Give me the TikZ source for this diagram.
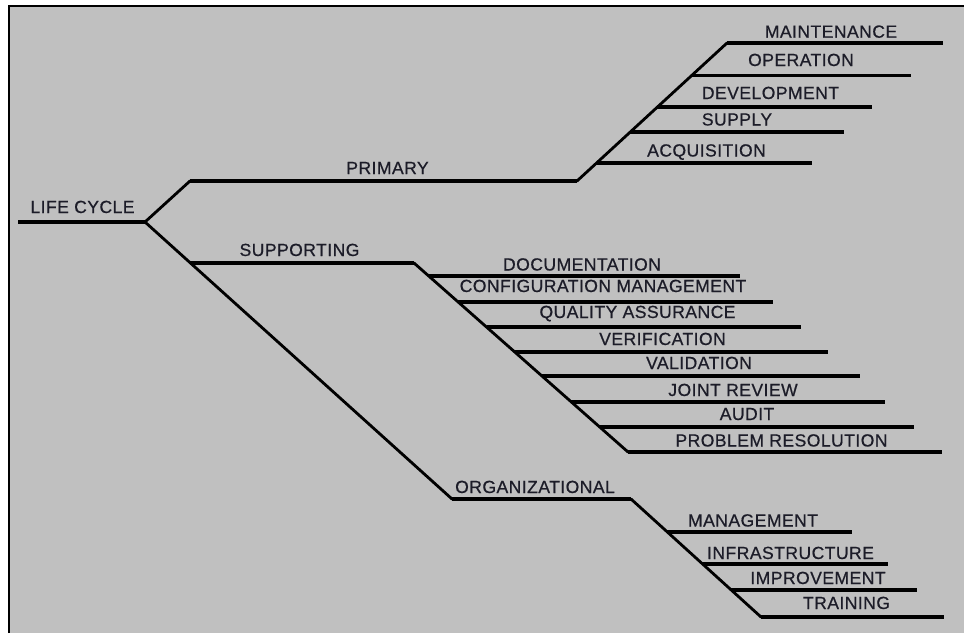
\documentclass[tikz,border=0pt]{standalone}
\usepackage{fontspec}
\setmainfont{Liberation Sans}[LetterSpace=2.5, FakeBold=0.6]
\usepackage{tikz}
\usetikzlibrary{positioning}
\definecolor{panel}{RGB}{192,192,192}
\definecolor{ink}{RGB}{28,28,40}
\tikzset{
  stem/.style={line width=2.3pt},
  twig/.style={line width=1.9pt},
  spine/.style={line width=1.6pt, line cap=round},
  tag/.style={anchor=base, inner sep=0pt, text=ink, font=\fontsize{10}{12}\selectfont}
}
\begin{document}
\begin{tikzpicture}[x=0.2mm, y=-0.2mm]
    \useasboundingbox (0,0) rectangle (964,633);
    \fill[panel] (9,6) rectangle (964,633);
    \draw[line width=1.1pt] (9,633) -- (9,6) -- (964,6);

    % root and the three groups
    \coordinate (lc0) at (18,222);
    \coordinate (lc1) at (145,222);
    \coordinate (p0) at (190,181);
    \coordinate (p1) at (577,181);
    \coordinate (s0) at (190,263);
    \coordinate (s1) at (414,263);
    \coordinate (o0) at (452,499);
    \coordinate (o1) at (631,499);

    \draw[stem] (lc0) -- (lc1);
    \draw[spine] (lc1) -- (p0);
    \draw[spine] (lc1) -- (o0);
    \draw[stem] (p0) -- (p1);
    \draw[stem] (s0) -- (s1);
    \draw[stem] (o0) -- (o1);

    \node(lc) [tag] at (82.5,213) {LIFE CYCLE};
    \node(prim) [tag] at (387.5,174) {PRIMARY};
    \node(supp) [tag] at (299.5,256) {SUPPORTING};
    \node(org) [tag] at (535,493) {ORGANIZATIONAL};

    % primary processes
    \coordinate (acq0) at (596.6,163);  \coordinate (acq1) at (812,163);
    \coordinate (sup0) at (630.3,132);  \coordinate (sup1) at (844,132);
    \coordinate (dev0) at (657.4,107);  \coordinate (dev1) at (872,107);
    \coordinate (ope0) at (691.7,75.5); \coordinate (ope1) at (911,75.5);
    \coordinate (mai0) at (727,43);     \coordinate (mai1) at (943,43);

    \draw[spine] (p1) -- (mai0);
    \foreach \b in {acq, sup, dev, ope, mai}
      \draw[twig] (\b0) -- (\b1);

    \node(acq) [tag] at (706.5,156.5) {ACQUISITION};
    \node(sup) [tag] at (737,125.5) {SUPPLY};
    \node(dev) [tag] at (770.5,99) {DEVELOPMENT};
    \node(ope) [tag] at (801,66) {OPERATION};
    \node(mai) [tag] at (831,37.7) {MAINTENANCE};

    % supporting processes
    \coordinate (doc0) at (428.7,276); \coordinate (doc1) at (740,276);
    \coordinate (cfg0) at (458,302);   \coordinate (cfg1) at (772.5,302);
    \coordinate (qas0) at (486.5,327); \coordinate (qas1) at (801,327);
    \coordinate (ver0) at (514.8,352); \coordinate (ver1) at (828,352);
    \coordinate (val0) at (542,376);   \coordinate (val1) at (860,376);
    \coordinate (jrv0) at (571.4,402); \coordinate (jrv1) at (885,402);
    \coordinate (aud0) at (599.7,427); \coordinate (aud1) at (914,427);
    \coordinate (prs0) at (628,452);   \coordinate (prs1) at (942,452);

    \draw[spine] (s1) -- (prs0);
    \foreach \b in {doc, cfg, qas, ver, val, jrv, aud, prs}
      \draw[twig] (\b0) -- (\b1);

    \node(doc) [tag] at (582,270.5) {DOCUMENTATION};
    \node(cfg) [tag] at (603,292) {CONFIGURATION MANAGEMENT};
    \node(qas) [tag] at (637.5,318) {QUALITY ASSURANCE};
    \node(ver) [tag] at (662.5,345) {VERIFICATION};
    \node(val) [tag] at (699,369) {VALIDATION};
    \node(jrv) [tag] at (733,396) {JOINT REVIEW};
    \node(aud) [tag] at (747,420) {AUDIT};
    \node(prs) [tag] at (781.5,446.5) {PROBLEM RESOLUTION};

    % organizational processes
    \coordinate (mgt0) at (667.4,532); \coordinate (mgt1) at (852,532);
    \coordinate (inf0) at (702.6,564); \coordinate (inf1) at (887.5,564);
    \coordinate (imp0) at (731.3,590); \coordinate (imp1) at (917,590);
    \coordinate (trn0) at (761,617);   \coordinate (trn1) at (943.5,617);

    \draw[spine] (o1) -- (trn0);
    \foreach \b in {mgt, inf, imp, trn}
      \draw[twig] (\b0) -- (\b1);

    \node(mgt) [tag] at (753,526.5) {MANAGEMENT};
    \node(inf) [tag] at (790.5,559) {INFRASTRUCTURE};
    \node(imp) [tag] at (818,584) {IMPROVEMENT};
    \node(trn) [tag] at (846.5,609) {TRAINING};
\end{tikzpicture}
\end{document}
